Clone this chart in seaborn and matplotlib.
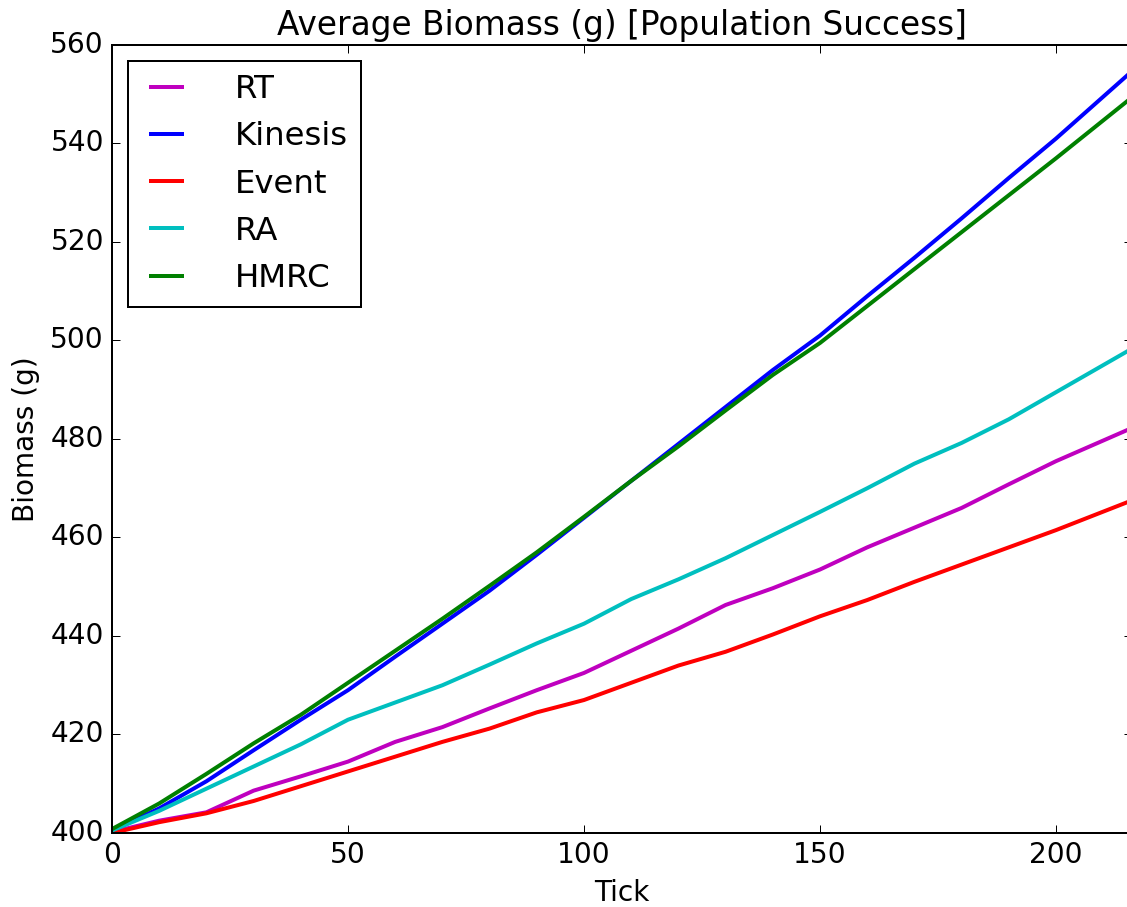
import matplotlib
matplotlib.use("Agg")
import matplotlib.pyplot as plt
import numpy as np
import pandas as pd
import seaborn as sns

plt.style.use("classic")
plt.rcParams["font.family"] = ["DejaVu Sans"]

# Average biomass per tick, sampled every 10 ticks
ticks = [0, 10, 20, 30, 40, 50, 60, 70, 80, 90, 100, 110, 120, 130, 140,
         150, 160, 170, 180, 190, 200, 216]

rt = [400.2, 402.5, 404.2, 408.6, 411.5, 414.5, 418.5, 421.5, 425.3, 429.0,
      432.5, 437.0, 441.5, 446.3, 449.7, 453.5, 458.0, 462.0, 466.0, 470.8,
      475.5, 482.2]
kinesis = [400.5, 405.0, 410.5, 416.8, 423.0, 429.0, 435.8, 442.5, 449.2,
           456.5, 464.0, 471.5, 479.0, 486.5, 494.0, 501.0, 509.0, 516.8,
           524.8, 533.0, 541.0, 554.6]
event = [400.0, 402.2, 404.0, 406.5, 409.5, 412.5, 415.5, 418.5, 421.2,
         424.5, 427.0, 430.5, 434.0, 436.8, 440.3, 444.0, 447.3, 451.0,
         454.5, 458.0, 461.5, 467.5]
ra = [400.5, 404.5, 409.0, 413.5, 418.0, 423.0, 426.5, 430.0, 434.2, 438.5,
      442.5, 447.5, 451.5, 455.8, 460.5, 465.2, 470.0, 475.0, 479.2, 484.0,
      489.5, 498.3]
hmrc = [400.8, 406.0, 412.0, 418.2, 424.0, 430.5, 437.0, 443.5, 450.2, 457.0,
        464.2, 471.5, 478.5, 485.8, 493.0, 499.5, 507.0, 514.5, 522.0, 529.5,
        537.0, 549.3]

series_names = ["RT", "Kinesis", "Event", "RA", "HMRC"]
series_values = [rt, kinesis, event, ra, hmrc]
series_colors = ["m", "b", "r", "c", "g"]

frames = []
for name, vals in zip(series_names, series_values):
    frames.append(pd.DataFrame({"Tick": ticks, "Biomass": vals, "Series": name}))
df = pd.concat(frames, ignore_index=True)

W, H, DPI = 1127, 907, 144
fig = plt.figure(figsize=(W / DPI, H / DPI), dpi=DPI)
fig.patch.set_facecolor("white")

x_max = 216
left_px, top_px, bottom_px = 112, 45, 833
px_per_tick = 4.72
right_px = left_px + x_max * px_per_tick
ax = fig.add_axes([left_px / W, (H - bottom_px) / H,
                   (right_px - left_px) / W, (bottom_px - top_px) / H])

sns.lineplot(data=df, x="Tick", y="Biomass", hue="Series",
             hue_order=series_names,
             palette=dict(zip(series_names, series_colors)),
             linewidth=2, ax=ax, estimator=None, sort=True)

ax.set_xlim(0, x_max)
ax.set_ylim(400, 560)
ax.set_xticks([0, 50, 100, 150, 200])
ax.set_yticks(np.arange(400, 561, 20))
ax.tick_params(labelsize=14, length=4)

ax.set_xlabel("Tick", fontsize=14)
ax.set_ylabel("Biomass (g)", fontsize=14)
ax.set_title("Average Biomass (g) [Population Success]", fontsize=16.4)

handles, labels = ax.get_legend_handles_labels()
leg = ax.legend(handles, labels, loc="upper left", fontsize=16.2,
                handlelength=1.57, handletextpad=1.33)
for line in leg.get_lines():
    line.set_linewidth(2)

fig.savefig("out.png", dpi=DPI, facecolor="white")
